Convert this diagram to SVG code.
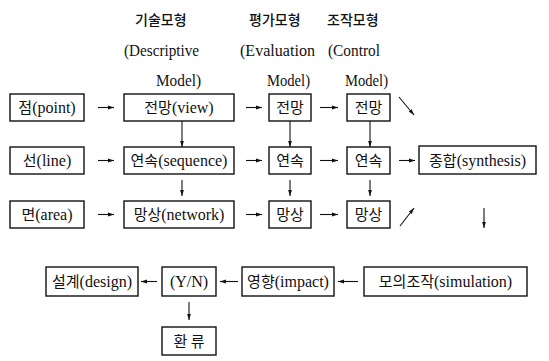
<svg xmlns="http://www.w3.org/2000/svg" width="549" height="361" viewBox="0 0 549 361">
<defs>
<style>
text{font-family:"Liberation Serif","DejaVu Serif","Noto Sans CJK KR",serif;fill:#111;}
.hd{font-size:14px;font-family:"Noto Sans CJK KR","Liberation Serif",sans-serif;font-weight:500;}
.en{font-size:17px;}
.lb{font-size:16px;text-anchor:middle;}
.ko{font-family:"Noto Sans CJK KR",sans-serif;font-size:15px;}
rect{fill:#fff;stroke:#111;stroke-width:1.4;}
.c line{stroke:#111;stroke-width:1.1;}
</style>
<marker id="ah" viewBox="0 0 8 8" refX="7" refY="4" markerWidth="7" markerHeight="7" markerUnits="userSpaceOnUse" orient="auto">
<path d="M0,1.8 L7,4 L0,6.2 Z" fill="#111"/>
</marker>
</defs>
<rect x="0" y="0" width="549" height="361" style="fill:#fff;stroke:none"/>

<g id="headers">
<text class="hd" x="135" y="25">기술모형</text>
<text class="en" x="124" y="56" textLength="75" lengthAdjust="spacingAndGlyphs">(Descriptive</text>
<text class="en" x="156" y="86" textLength="45" lengthAdjust="spacingAndGlyphs">Model)</text>
<text class="hd" x="249" y="25">평가모형</text>
<text class="en" x="240" y="56" textLength="75" lengthAdjust="spacingAndGlyphs">(Evaluation</text>
<text class="en" x="267" y="86" textLength="43" lengthAdjust="spacingAndGlyphs">Model)</text>
<text class="hd" x="327" y="25">조작모형</text>
<text class="en" x="328" y="56" textLength="52" lengthAdjust="spacingAndGlyphs">(Control</text>
<text class="en" x="345" y="86" textLength="43" lengthAdjust="spacingAndGlyphs">Model)</text>
</g>

<g id="point"><rect x="10" y="94" width="74" height="27"/><text class="lb" x="47" y="113"><tspan class="ko">점</tspan>(point)</text></g>
<g id="view"><rect x="124" y="94" width="110" height="27"/><text class="lb" x="179" y="113"><tspan class="ko">전망</tspan>(view)</text></g>
<g id="view-eval"><rect x="269" y="94" width="42" height="27"/><text class="lb ko" x="290" y="113">전망</text></g>
<g id="view-ctrl"><rect x="347" y="94" width="43" height="27"/><text class="lb ko" x="368.5" y="113">전망</text></g>

<g id="line"><rect x="10" y="147" width="74" height="27"/><text class="lb" x="47" y="166"><tspan class="ko">선</tspan>(line)</text></g>
<g id="sequence"><rect x="124" y="147" width="110" height="27"/><text class="lb" x="179" y="166"><tspan class="ko">연속</tspan>(sequence)</text></g>
<g id="seq-eval"><rect x="269" y="147" width="42" height="27"/><text class="lb ko" x="290" y="166">연속</text></g>
<g id="seq-ctrl"><rect x="347" y="147" width="43" height="27"/><text class="lb ko" x="368.5" y="166">연속</text></g>
<g id="synthesis"><rect x="419" y="146" width="117" height="28"/><text class="lb" x="477.5" y="166"><tspan class="ko">종합</tspan>(synthesis)</text></g>

<g id="area"><rect x="10" y="201" width="74" height="27"/><text class="lb" x="47" y="220"><tspan class="ko">면</tspan>(area)</text></g>
<g id="network"><rect x="124" y="201" width="110" height="27"/><text class="lb" x="179" y="220"><tspan class="ko">망상</tspan>(network)</text></g>
<g id="net-eval"><rect x="269" y="201" width="42" height="27"/><text class="lb ko" x="290" y="220">망상</text></g>
<g id="net-ctrl"><rect x="347" y="201" width="43" height="27"/><text class="lb ko" x="368.5" y="220">망상</text></g>

<g id="design"><rect x="46" y="267" width="92" height="29"/><text class="lb" x="92" y="287"><tspan class="ko">설계</tspan>(design)</text></g>
<g id="yn"><rect x="162" y="267" width="54" height="29"/><text class="lb" x="189" y="287">(Y/N)</text></g>
<g id="impact"><rect x="242" y="267" width="92" height="29"/><text class="lb" x="288" y="287"><tspan class="ko">영향</tspan>(impact)</text></g>
<g id="simulation"><rect x="364" y="267" width="163" height="29"/><text class="lb" x="445.5" y="287"><tspan class="ko">모의조작</tspan>(simulation)</text></g>
<g id="feedback"><rect x="162" y="327" width="54" height="28"/><text class="lb ko" x="189" y="347">환 류</text></g>

<g id="connectors" class="c">
<line x1="98" y1="107.5" x2="114" y2="107.5" marker-end="url(#ah)"/>
<line x1="246" y1="107.5" x2="262" y2="107.5" marker-end="url(#ah)"/>
<line x1="320" y1="107.5" x2="338" y2="107.5" marker-end="url(#ah)"/>
<line x1="399" y1="97" x2="414" y2="115" marker-end="url(#ah)"/>

<line x1="98" y1="160.5" x2="114" y2="160.5" marker-end="url(#ah)"/>
<line x1="246" y1="160.5" x2="262" y2="160.5" marker-end="url(#ah)"/>
<line x1="320" y1="160.5" x2="338" y2="160.5" marker-end="url(#ah)"/>
<line x1="399" y1="160.5" x2="415" y2="160.5" marker-end="url(#ah)"/>

<line x1="98" y1="214.5" x2="114" y2="214.5" marker-end="url(#ah)"/>
<line x1="246" y1="214.5" x2="262" y2="214.5" marker-end="url(#ah)"/>
<line x1="320" y1="214.5" x2="338" y2="214.5" marker-end="url(#ah)"/>
<line x1="400" y1="226" x2="414" y2="208" marker-end="url(#ah)"/>

<line x1="182" y1="121" x2="182" y2="147" marker-end="url(#ah)"/>
<line x1="290" y1="121" x2="290" y2="147" marker-end="url(#ah)"/>
<line x1="370" y1="121" x2="370" y2="147" marker-end="url(#ah)"/>
<line x1="182" y1="180" x2="182" y2="196" marker-end="url(#ah)"/>
<line x1="290" y1="180" x2="290" y2="196" marker-end="url(#ah)"/>
<line x1="370" y1="180" x2="370" y2="196" marker-end="url(#ah)"/>
<line x1="484" y1="208" x2="484" y2="228" marker-end="url(#ah)"/>

<line x1="358" y1="281.5" x2="338" y2="281.5" marker-end="url(#ah)"/>
<line x1="238" y1="281.5" x2="220" y2="281.5" marker-end="url(#ah)"/>
<line x1="157" y1="281.5" x2="141" y2="281.5" marker-end="url(#ah)"/>
<line x1="189" y1="302" x2="189" y2="320" marker-end="url(#ah)"/>
</g>
</svg>
